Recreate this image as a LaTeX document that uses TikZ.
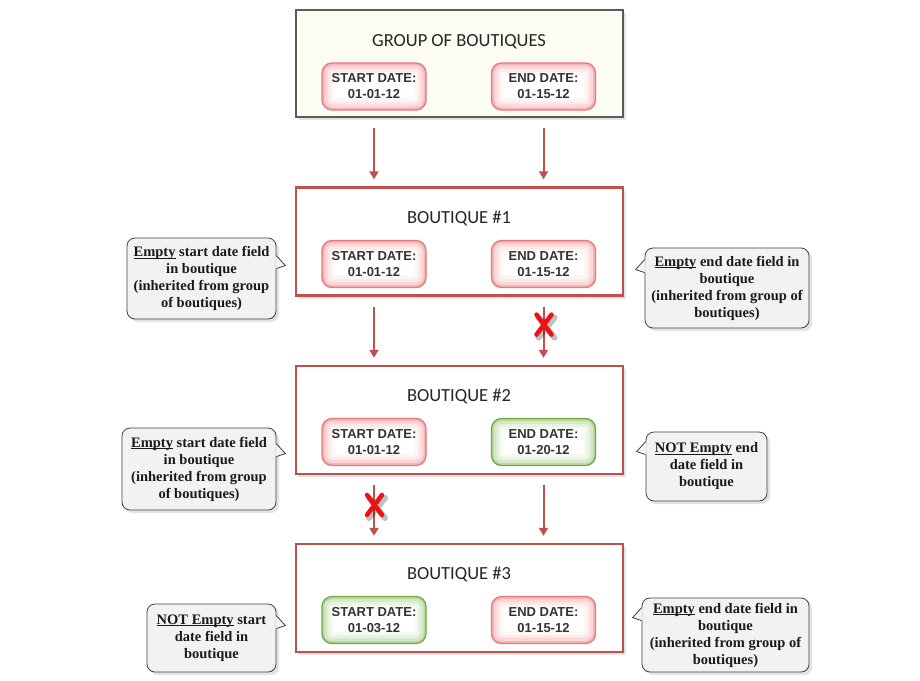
\documentclass[tikz,border=0pt]{standalone}
\usepackage{fontspec}
\setmainfont{Liberation Serif}
\setsansfont{Liberation Sans}
\newfontfamily\calibrifont{Carlito}
\usetikzlibrary{arrows.meta,shadows,calc}
\definecolor{brick}{HTML}{C0504D}
\definecolor{slate}{HTML}{5A5A5A}
\definecolor{cream}{HTML}{FDFDF3}
\definecolor{pinkline}{HTML}{E8787B}
\definecolor{pinkglow}{HTML}{F4A3A6}
\definecolor{leafline}{HTML}{6FAA46}
\definecolor{leafglow}{HTML}{A6CF8A}
\definecolor{notegray}{HTML}{F2F2F2}
\definecolor{crossred}{HTML}{EE1111}

% underline close to the baseline
\newcommand\uword[1]{\setbox0\hbox{#1}\rlap{\rule[-1.8pt]{\wd0}{.8pt}}\box0\relax}

% notch of a note, pointing right or left
\newcommand\tabright[2]{%
  \fill[notegray] ($(#1.north east)+(-1,#2)$) -- ($(#1.north east)+(9,#2+10)$) -- ($(#1.north east)+(-1,#2+13)$) -- cycle;
  \draw[black!75,line width=.8pt] ($(#1.north east)+(0,#2)$) -- ($(#1.north east)+(9,#2+10)$) -- ($(#1.north east)+(0,#2+13)$);}
\newcommand\tableft[2]{%
  \fill[notegray] ($(#1.north west)+(1,#2)$) -- ($(#1.north west)+(-9,#2+10)$) -- ($(#1.north west)+(1,#2+13)$) -- cycle;
  \draw[black!75,line width=.8pt] ($(#1.north west)+(0,#2)$) -- ($(#1.north west)+(-9,#2+10)$) -- ($(#1.north west)+(0,#2+13)$);}

\tikzset{
  softshadow/.style={drop shadow={opacity=.22,shadow xshift=3pt,shadow yshift=-3pt}},
  box/.style={draw=brick,line width=2.4pt,fill=white,minimum width=327pt,minimum height=108pt,softshadow},
  boxtitle/.style={font=\calibrifont\fontsize{18.5}{20}\selectfont,text=black!85},
  pill/.style={draw=#1line,line width=1.3pt,rounded corners=10pt,fill=white,
    minimum width=104pt,minimum height=47pt,align=center,inner sep=0pt,
    font=\sffamily\bfseries\fontsize{13}{16}\selectfont,text=black!80,
    path picture={
      \foreach \w/\s in {24/10,17/25,11/45,5/78}
        \draw[#1glow!\s,line width=\w pt,rounded corners=10pt]
          (path picture bounding box.south west) rectangle (path picture bounding box.north east);
    }},
  note/.style={draw=black!75,line width=.8pt,fill=notegray,rounded corners=8pt,softshadow,
    align=center,inner sep=0pt,text=black!90,font=\bfseries\fontsize{14.5}{17}\selectfont},
  flow/.style={brick,line width=2pt,-{Triangle[width=9pt,length=8pt]},shorten <=10pt,shorten >=7pt},
  nope/.pic={
    \draw[black,opacity=.25,line width=6pt,line cap=round] (-5,-7) -- (11,13) (11,-7) -- (-5,13);
    \draw[crossred,line width=4.5pt,line cap=round] (-7,-10) -- (8,10) (8,-10) -- (-7,10);
  }
}

\begin{document}
\begin{tikzpicture}[x=1pt,y=-1pt]
\path[use as bounding box,fill=white] (0,0) rectangle (920,680);

% group of boutiques
\node[box,draw=slate,fill=cream,line width=2.6pt,minimum height=107pt] (g0) at (459.5,63.5) {};
\node[boxtitle] (t0) at (459,42) {GROUP OF BOUTIQUES};
\node[pill=pink] (s0) at (374,86.5) {START DATE:\\01-01-12};
\node[pill=pink] (e0) at (543.5,86.5) {END DATE:\\01-15-12};

% boutique #1
\node[box] (b1) at (459.5,241.5) {};
\node[boxtitle] (t1) at (459,218) {BOUTIQUE \#1};
\node[pill=pink] (s1) at (374,264) {START DATE:\\01-01-12};
\node[pill=pink] (e1) at (543.5,264) {END DATE:\\01-15-12};

% boutique #2
\node[box] (b2) at (459.5,420) {};
\node[boxtitle] (t2) at (459,396) {BOUTIQUE \#2};
\node[pill=pink] (s2) at (374,442) {START DATE:\\01-01-12};
\node[pill=leaf] (e2) at (543.5,442) {END DATE:\\01-20-12};

% boutique #3
\node[box] (b3) at (459.5,598) {};
\node[boxtitle] (t3) at (459,574) {BOUTIQUE \#3};
\node[pill=leaf] (s3) at (374,620) {START DATE:\\01-03-12};
\node[pill=pink] (e3) at (543.5,620) {END DATE:\\01-15-12};

% inheritance arrows
\draw[flow] (s0 |- g0.south) -- (s0 |- b1.north);
\draw[flow] (e0 |- g0.south) -- (e0 |- b1.north);
\draw[flow] (s1 |- b1.south) -- (s1 |- b2.north);
\draw[flow] (e1 |- b1.south) -- coordinate[pos=.41] (x1) (e1 |- b2.north);
\draw[flow] (s2 |- b2.south) -- coordinate[pos=.44] (x2) (s2 |- b3.north);
\draw[flow] (e2 |- b2.south) -- (e2 |- b3.north);
\pic at (x1) {nope};
\pic at (x2) {nope};

% notes
\node[note,minimum width=149pt,minimum height=81pt] (n1) at (201.5,278.5)
  {\uword{Empty} start date field\\in boutique\\(inherited from group\\of boutiques)};
\tabright{n1}{18}
\node[note,minimum width=164pt,minimum height=80pt] (n2) at (727,288)
  {\uword{Empty} end date field in\\boutique\\(inherited from group of\\boutiques)};
\tableft{n2}{12}
\node[note,minimum width=154pt,minimum height=82pt] (n3) at (199,469)
  {\uword{Empty} start date field\\in boutique\\(inherited from group\\of boutiques)};
\tabright{n3}{16}
\node[note,minimum width=121pt,minimum height=69pt] (n4) at (706.5,466.5)
  {\uword{NOT Empty} end\\date field in\\boutique};
\tableft{n4}{10}
\node[note,minimum width=129pt,minimum height=68pt] (n5) at (211.5,638)
  {\uword{NOT Empty} start\\date field in\\boutique};
\tabright{n5}{12}
\node[note,minimum width=167pt,minimum height=74pt] (n6) at (725.5,635)
  {\uword{Empty} end date field in\\boutique\\(inherited from group of\\boutiques)};
\tableft{n6}{10}
\end{tikzpicture}
\end{document}
